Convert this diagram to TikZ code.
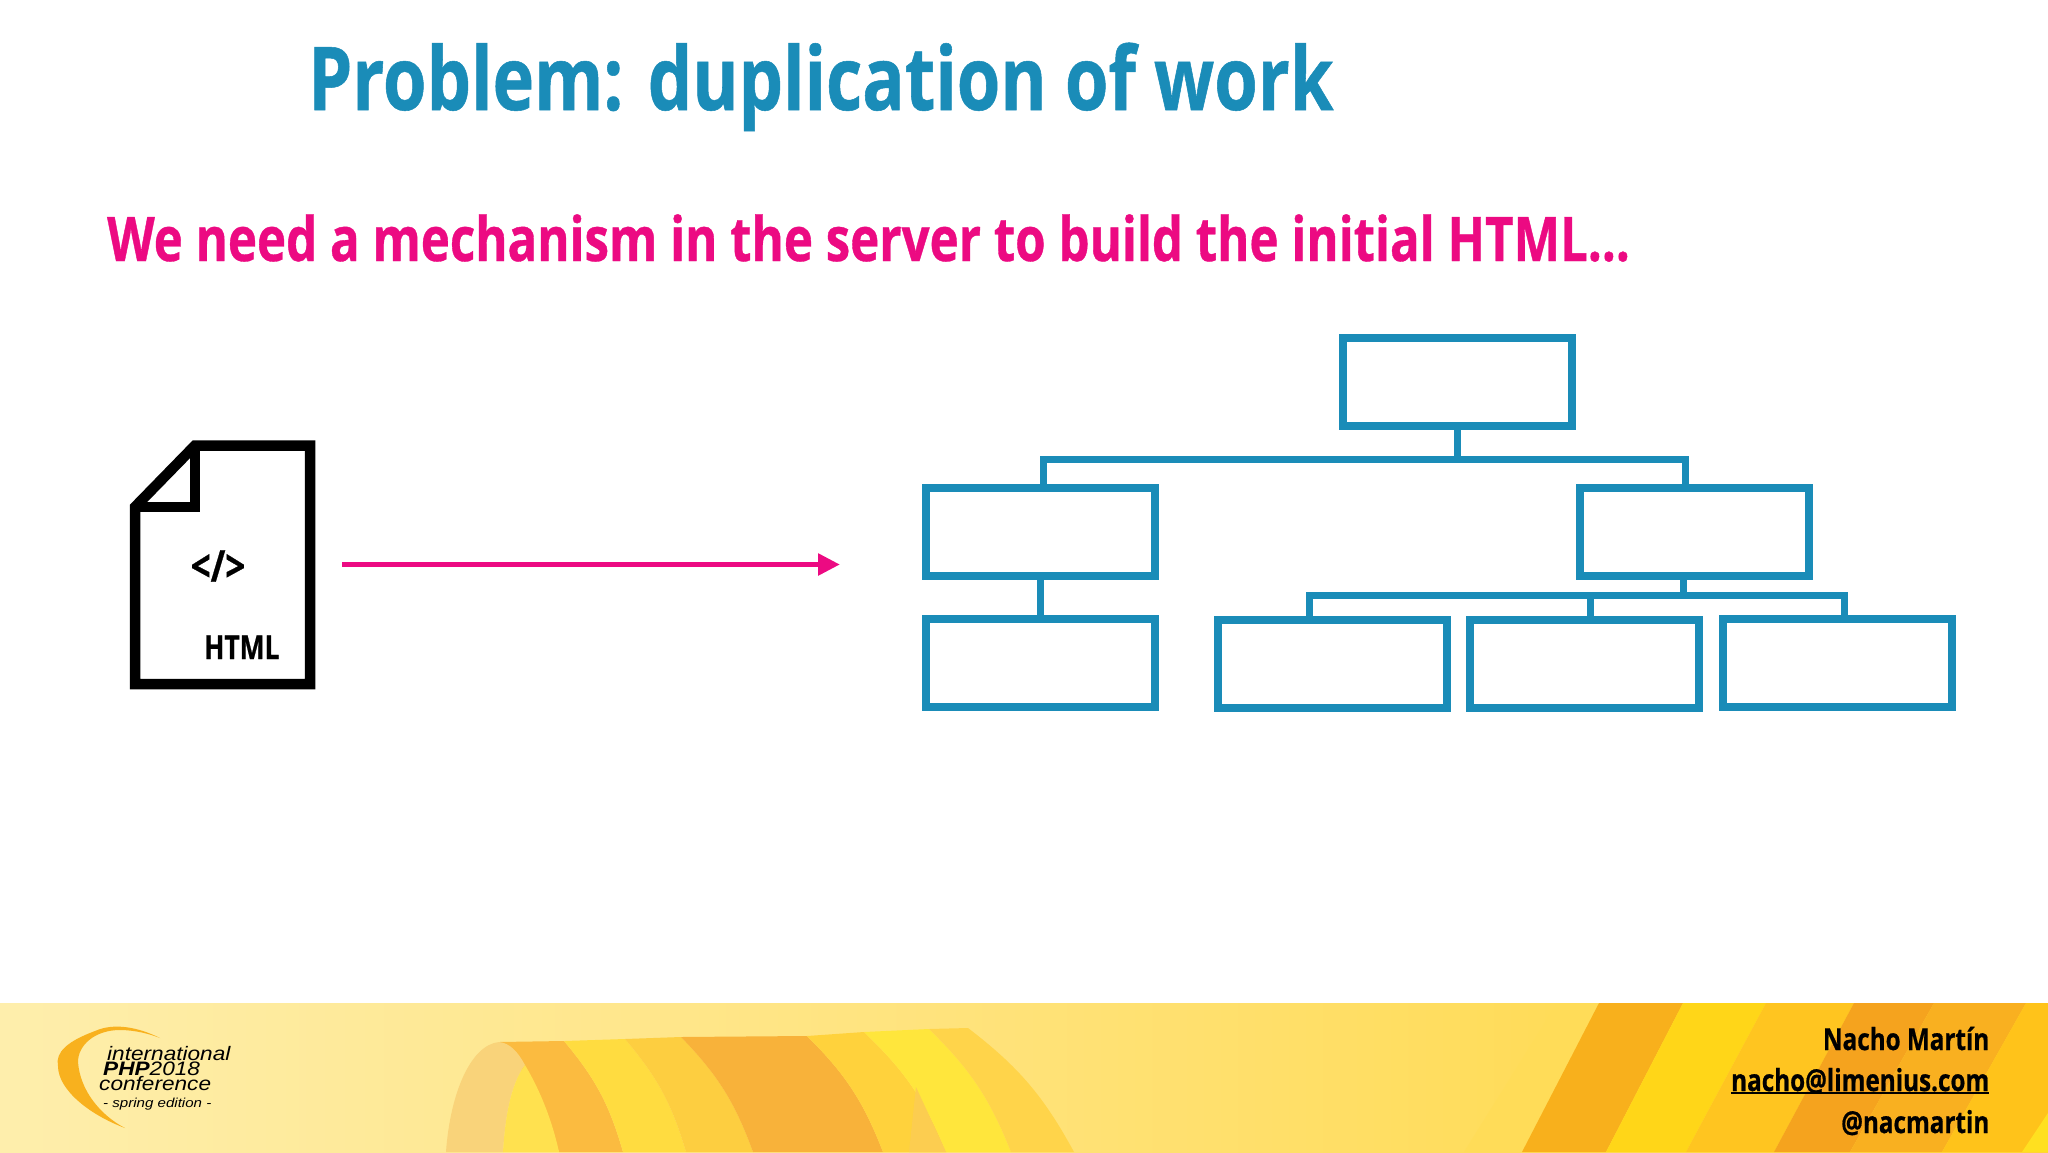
\documentclass[tikz,border=0pt]{standalone}
\usepackage{fontspec}
\usepackage{tikz}
\usetikzlibrary{calc,positioning,arrows.meta}
\newfontfamily\slidefont[FakeStretch=0.8,BoldFeatures={FakeStretch=0.8,FakeBold=0.6}]{Open Sans}
\newfontfamily\logofont[FakeStretch=1.16]{Liberation Sans}
\definecolor{treeblue}{HTML}{1A8CB8}
\definecolor{slidepink}{HTML}{EC0A82}
\definecolor{footA}{HTML}{FEEEAC}
\definecolor{footB}{HTML}{FFE278}
\definecolor{footC}{HTML}{FFD63C}
\definecolor{ribbonA}{HTML}{F9D37A}
\definecolor{ribbonB}{HTML}{FFE14F}
\definecolor{ribbonC}{HTML}{FCCD50}
\definecolor{swoosh}{HTML}{F8B11E}
\definecolor{cornerY}{HTML}{FFE020}
\newcommand{\mailline}[1]{\setbox0\hbox{#1}\rlap{\rule[-3pt]{\wd0}{2pt}}\box0}
\begin{document}
\begin{tikzpicture}[x=1pt,y=-1pt]
  \useasboundingbox (0,0) rectangle (2048,1152);
  \fill[white] (0,0) rectangle (2048,1152);
  \tikzstyle{every node} = [inner sep=0pt,anchor=base west];
  \tikzstyle{treebox} = [draw=treeblue,line width=8pt,fill=white,minimum width=229pt,minimum height=88pt,anchor=center];
  \tikzstyle{treeline} = [draw=treeblue,line width=7pt];
  \tikzstyle{contact} = [font=\slidefont\bfseries\fontsize{30.3}{31}\selectfont,anchor=base east];
  \tikzstyle{logotext} = [font=\logofont\itshape\fontsize{19.5}{20}\selectfont];

  \shade[left color=footA,right color=footC,middle color=footB] (0,1003) rectangle (2048,1152);
  \foreach \xa/\xb/\xc/\xd/\col in {1557/1599/1522/1464/FFDC58,1599/1683/1606/1522/F8B01C,1683/1766/1686/1606/FFD618,1766/1854/1774/1686/FFC520,1854/1934/1850/1774/F5A31E,1934/2026/1942/1850/F9B020,2026/2048/2048/1942/FFC31A} {
    \definecolor{stripe}{HTML}{\col}
    \fill[stripe] (\xa,1003) -- (\xb,1003) -- (\xc,1152) -- (\xd,1152) -- cycle;
  }
  \fill[cornerY] (2048,1113) -- (2022,1152) -- (2048,1152) -- cycle;

  \foreach \xa/\ya/\xb/\yb/\xc/\xd/\col in {499/1042/564/1041/623/559/FBBB40,564/1041/625/1039/686/623/FFDC40,625/1039/681/1037/753/686/FDCE40,681/1037/807/1036/883/753/F8B23A,807/1036/864/1032/946/883/FFD23C,864/1032/929/1029/1011/946/FFE63C,929/1029/968/1028/1074/1011/FFD44A} {
    \definecolor{band}{HTML}{\col}
    \fill[band] (\xa,\ya) -- (\xb,\yb) to[bend left=12] (\xc,1152) -- (\xd,1152) to[bend right=12] cycle;
  }
  \fill[ribbonC] (916,1087) -- (909,1152) -- (946,1152) -- cycle;
  \fill[ribbonA] (446,1152) .. controls (450,1095) and (470,1045) .. (499,1042) .. controls (510,1043) and (518,1052) .. (525,1065) .. controls (510,1085) and (505,1120) .. (503,1152) -- cycle;
  \fill[ribbonB] (503,1152) .. controls (505,1120) and (510,1085) .. (525,1065) .. controls (540,1090) and (552,1120) .. (559,1152) -- cycle;

  \fill[swoosh] (160,1038) .. controls (140,1028) and (115,1022) .. (95,1031) .. controls (68,1041) and (55,1052) .. (58,1066) .. controls (58,1090) and (90,1115) .. (125,1128) .. controls (100,1115) and (80,1090) .. (78,1062) .. controls (78,1045) and (95,1030) .. (120,1030) .. controls (135,1030) and (150,1034) .. (160,1038) -- cycle;
  \node[logotext] (logoA) at (107,1060) {international};
  \node[logotext] (logoB) at (103,1075) {\textbf{PHP}2018};
  \node[logotext] (logoC) at (99,1090) {conference};
  \node[logotext,font=\logofont\itshape\fontsize{13}{13}\selectfont] (logoD) at (103,1107) {- spring edition -};

  \node[font=\slidefont\bfseries\fontsize{88}{88}\selectfont,text=treeblue] (titleText) at (308,110) {Problem: duplication of work};
  \node[font=\slidefont\bfseries\fontsize{61.5}{62}\selectfont,text=slidepink] (subText) at (107,261) {We need a mechanism in the server to build the initial HTML...};

  \draw[line width=10.5pt,miter limit=10] (135,684) -- (135,507) -- (195,445.5) -- (310,445.5) -- (310,684) -- cycle;
  \draw[line width=10.5pt] (135,507) -- (195,507) -- (195,445.5);
  \node[font=\slidefont\bfseries\fontsize{44}{44}\selectfont,anchor=center] (codeText) at (218,566) {</>};
  \node[font=\slidefont\bfseries\fontsize{33}{33}\selectfont] (htmlText) at (204,659) {HTML};

  \coordinate (pStart) at (342,564.5);
  \coordinate (pEnd) at (840,564.5);
  \draw[slidepink,line width=5.5pt,-{Triangle[length=22pt,width=21pt]}] (pStart) -- (pEnd);

  \node[treebox] (boxRoot) at (1457,381.5) {};
  \node[treebox] (boxLeft) at (1040,531.5) {};
  \node[treebox] (boxRight) at (1694,531.5) {};
  \node[treebox] (boxLeaf) at (1040,662.5) {};
  \node[treebox] (boxA) at (1332,663.5) {};
  \node[treebox] (boxB) at (1584.5,663.5) {};
  \node[treebox] (boxC) at (1837,662.5) {};

  \coordinate (pUpL) at (1043.5,459.5);
  \coordinate (pUpR) at (1685.5,459.5);
  \coordinate (pLowL) at (1309.5,595.5);
  \coordinate (pLowM) at (1590,595.5);
  \coordinate (pLowR) at (1844.5,595.5);
  \coordinate (pStem) at (1683.5,595.5);

  \draw[treeline] (boxRoot.south) -- (boxRoot.south |- pUpL);
  \draw[treeline,line cap=rect] (pUpL) -- (pUpR);
  \draw[treeline] (pUpL) -- (pUpL |- boxLeft.north);
  \draw[treeline] (pUpR) -- (pUpR |- boxRight.north);
  \draw[treeline] (boxLeft.south) -- (boxLeaf.north);
  \draw[treeline] (pStem |- boxRight.south) -- (pStem);
  \draw[treeline,line cap=rect] (pLowL) -- (pLowR);
  \draw[treeline] (pLowL) -- (pLowL |- boxA.north);
  \draw[treeline] (pLowM) -- (pLowM |- boxB.north);
  \draw[treeline] (pLowR) -- (pLowR |- boxC.north);

  \node[contact] (nameText) at (1989.5,1050) {Nacho Martín};
  \node[contact] (mailText) at (1989.5,1091) {\mailline{nacho@limenius.com}};
  \node[contact] (handleText) at (1989.5,1133) {@nacmartin};
\end{tikzpicture}
\end{document}
